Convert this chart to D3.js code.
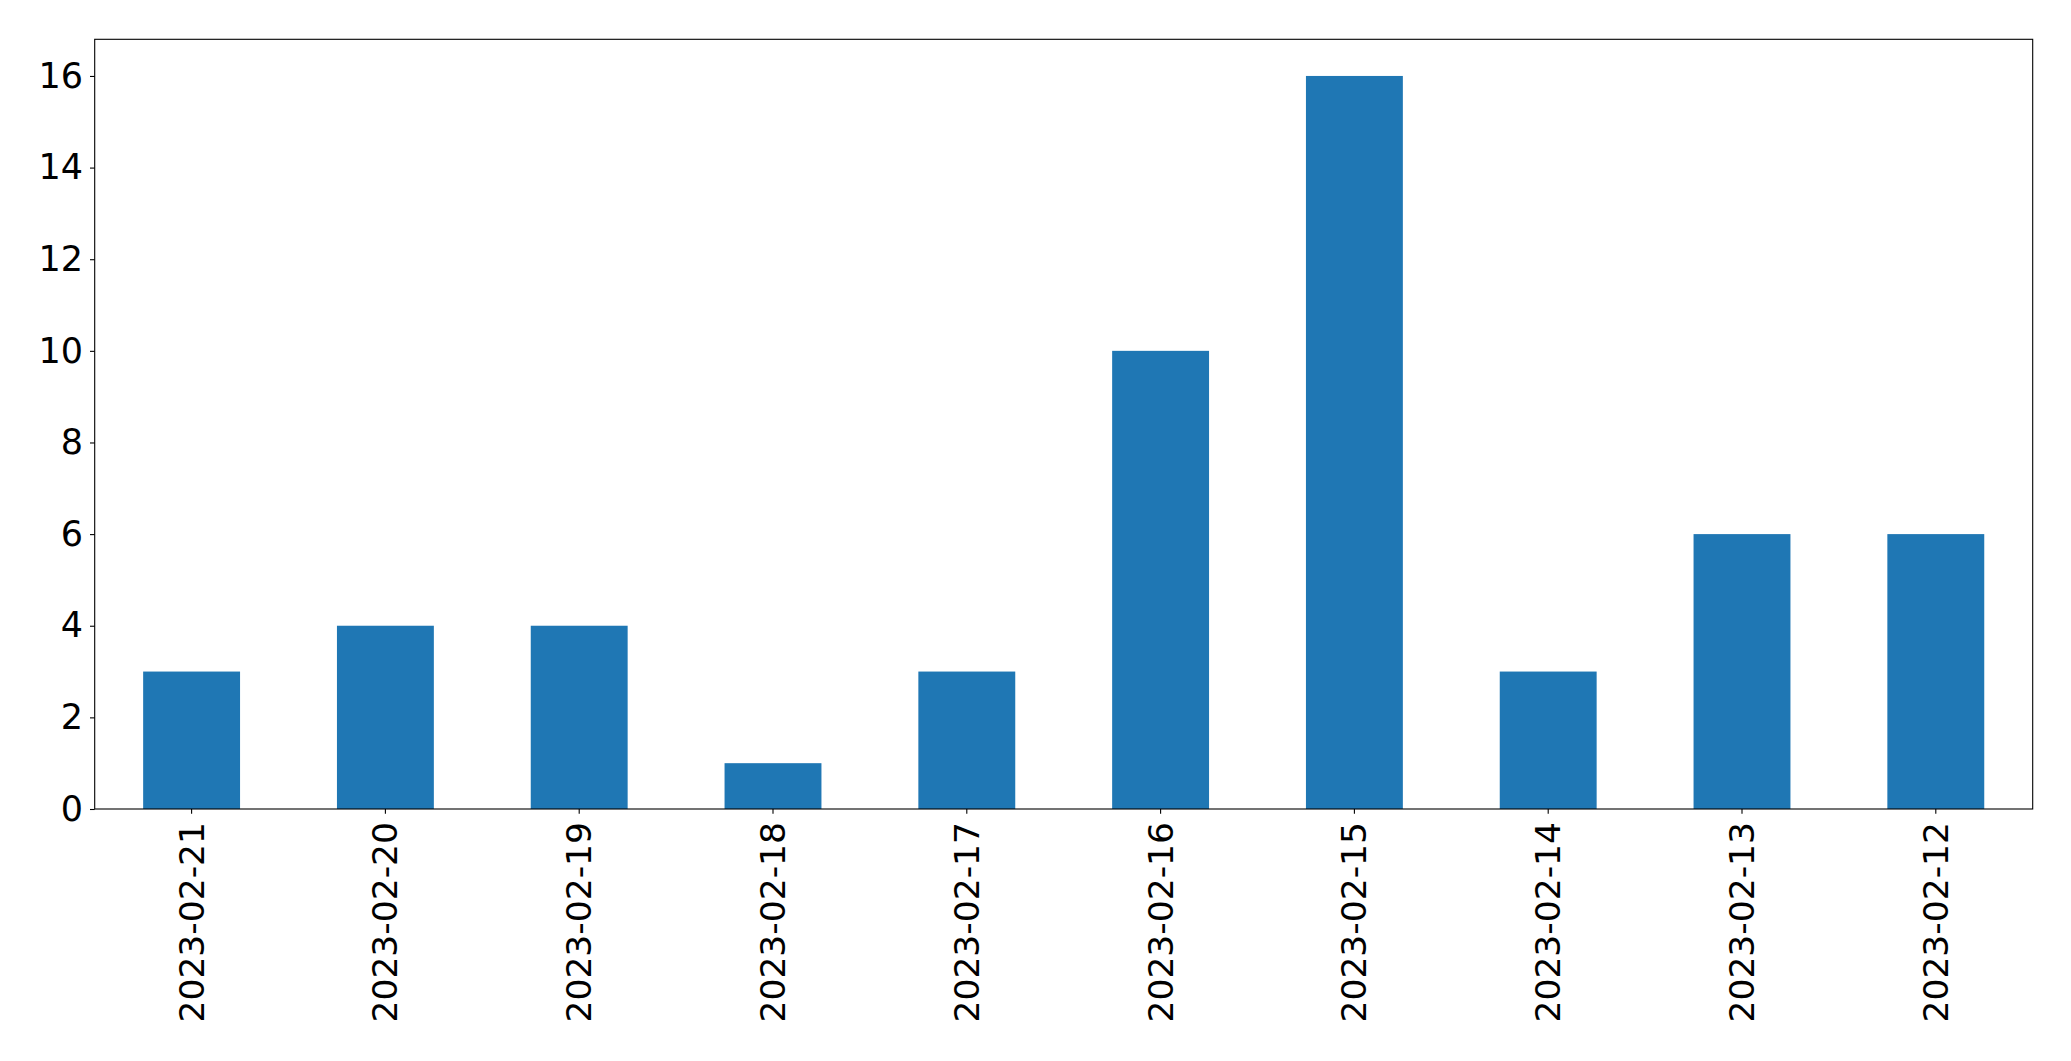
<!DOCTYPE html>
<html>
<head>
<meta charset="utf-8">
<script src="https://cdn.jsdelivr.net/npm/d3@7"></script>
<style>
  html, body { margin: 0; padding: 0; background: #fff; }
  svg { display: block; }
  text { font-family: "DejaVu Sans", sans-serif; fill: #000; }
</style>
</head>
<body>
<svg id="chart" width="2071" height="1061"></svg>
<script>
const categories = ["2023-02-21","2023-02-20","2023-02-19","2023-02-18","2023-02-17","2023-02-16","2023-02-15","2023-02-14","2023-02-13","2023-02-12"];
const values = [3, 4, 4, 1, 3, 10, 16, 3, 6, 6];
const yTicks = [0, 2, 4, 6, 8, 10, 12, 14, 16];

const mLeft = 94.7, mRight = 2032.7, mTop = 39.3, mBottom = 809;
const fontSize = 34.5;
const svg = d3.select("#chart");

const x = d3.scaleBand().domain(categories).range([mLeft, mRight]).paddingInner(0.5).paddingOuter(0.25);
const y = d3.scaleLinear().domain([0, 16.8]).range([mBottom, mTop]);

svg.append("g").selectAll("rect").data(values).join("rect")
  .attr("x", (d, i) => x(categories[i]))
  .attr("width", x.bandwidth())
  .attr("y", d => y(d))
  .attr("height", d => y(0) - y(d))
  .attr("fill", "#1f77b4");

const yAxis = svg.append("g").attr("transform", `translate(${mLeft},0)`)
  .call(d3.axisLeft(y).tickValues(yTicks).tickSize(4.7).tickPadding(7).tickFormat(d3.format("d")));
yAxis.select(".domain").remove();
yAxis.selectAll("line").attr("stroke", "#000").attr("stroke-width", 1.1);
yAxis.selectAll("text").style("font-size", "35px").style("font-family", "DejaVu Sans").attr("fill", "#000");

const xAxis = svg.append("g").attr("transform", `translate(0,${mBottom})`)
  .call(d3.axisBottom(x).tickSize(4.7).tickPadding(0));
xAxis.select(".domain").remove();
xAxis.selectAll("line").attr("stroke", "#000").attr("stroke-width", 1.1);
xAxis.selectAll("text")
  .style("font-size", fontSize + "px").style("font-family", "DejaVu Sans").attr("fill", "#000")
  .attr("text-anchor", "end")
  .attr("dy", null)
  .attr("dominant-baseline", "central")
  .attr("y", 0)
  .attr("transform", "translate(0,13) rotate(-90)");

svg.append("rect")
  .attr("x", mLeft).attr("y", mTop)
  .attr("width", mRight - mLeft).attr("height", mBottom - mTop)
  .attr("fill", "none").attr("stroke", "#000").attr("stroke-width", 1.1);
</script>
</body>
</html>
